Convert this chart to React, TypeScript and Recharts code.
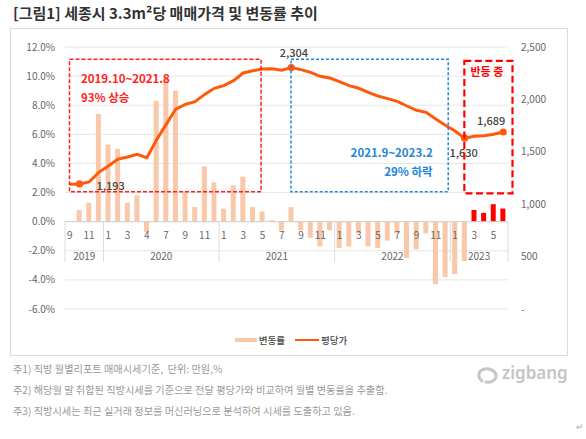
import React from 'react';
import {
  ComposedChart, Bar, Line, XAxis, YAxis, CartesianGrid, ReferenceLine,
  ReferenceArea, Cell, Legend, LabelList,
} from 'recharts';

// ---------- data ----------
const months = [
  '2019.09', '2019.10', '2019.11', '2019.12',
  '2020.01', '2020.02', '2020.03', '2020.04', '2020.05', '2020.06', '2020.07', '2020.08', '2020.09', '2020.10', '2020.11', '2020.12',
  '2021.01', '2021.02', '2021.03', '2021.04', '2021.05', '2021.06', '2021.07', '2021.08', '2021.09', '2021.10', '2021.11', '2021.12',
  '2022.01', '2022.02', '2022.03', '2022.04', '2022.05', '2022.06', '2022.07', '2022.08', '2022.09', '2022.10', '2022.11', '2022.12',
  '2023.01', '2023.02', '2023.03', '2023.04', '2023.05', '2023.06',
];

const monthTickLabels = [
  '9', '', '11', '',
  '1', '', '3', '', '4', '', '7', '', '9', '', '11', '',
  '1', '', '3', '', '5', '', '7', '', '9', '', '11', '',
  '1', '', '3', '', '5', '', '7', '', '9', '', '11', '',
  '1', '', '3', '', '5', '',
];

// 변동률 (%)
const changeRate = [
  0, 0.8, 1.3, 7.4,
  5.3, 5.0, 1.3, 1.8, -0.7, 8.3, 9.9, 9.0, 2.1, 1.0, 3.8, 2.7,
  0.9, 2.5, 3.1, 1.0, 0.7, 0.1, -0.6, 1.0, -0.6, -1.1, -1.7, -0.6,
  -1.8, -1.7, -0.8, -1.7, -1.8, -1.3, -0.8, -2.5, -1.9, -0.8, -4.3, -3.8,
  -3.6, -2.7, 0.8, 0.6, 1.2, 0.9,
];

// 평당가 (만원)
const avgPrice = [
  1190, 1193, 1212, 1304,
  1364, 1431, 1450, 1476, 1444, 1613, 1762, 1908, 1953, 1978, 2048, 2106,
  2131, 2179, 2252, 2274, 2290, 2293, 2278, 2304, 2284, 2258, 2220, 2204,
  2169, 2131, 2106, 2068, 2032, 2007, 1982, 1937, 1896, 1877, 1813, 1753,
  1698, 1630, 1648, 1654, 1667, 1689,
];

const labeledMonths = ['2019.10', '2021.08', '2023.02', '2023.06'];
const reboundMonths = ['2023.03', '2023.04', '2023.05', '2023.06'];

const leftTicks = [-6, -4, -2, 0, 2, 4, 6, 8, 10, 12];
const rightTicks = [0, 500, 1000, 1500, 2000, 2500];

const seriesNames = ['변동률', '평당가'];

const titleText = '[그림1] 세종시 3.3m²당 매매가격 및 변동률 추이';
const footnotes = [
  '주1) 직방 월별리포트 매매시세기준,  단위: 만원,%',
  '주2) 해당월 말 취합된 직방시세를 기준으로 전달 평당가와 비교하여 월별 변동률을 추출함.',
  '주3) 직방시세는 최근 실거래 정보를 머신러닝으로 분석하여 시세를 도출하고 있음.',
];

const riseLines = ['2019.10~2021.8', '93% 상승'];
const fallLines = ['2021.9~2023.2', '29% 하락'];
const reboundLines = ['반등 중'];

const data = months.map((m, i) => ({ month: m, change: changeRate[i], price: avgPrice[i] }));

// ---------- layout / style ----------
const W = 586;
const H = 439;
const MARGIN = { top: 47, right: 28, bottom: 100, left: 25 };
const LEFT_W = 40;
const RIGHT_W = 50;
const XAXIS_H = 30;
const PLOT_H = H - MARGIN.top - MARGIN.bottom - XAXIS_H;
const PLOT_W = W - MARGIN.left - MARGIN.right - LEFT_W - RIGHT_W;
const L_MIN = -6;
const L_MAX = 12;

const FONT = '"Noto Sans CJK KR", "Noto Sans", sans-serif';
const LINE_COLOR = '#ff5a0a';
const BAR_COLOR = '#f8c8a8';
const REBOUND_COLOR = '#ff0000';
const RED = '#ff1f1f';
const BLUE = '#2386d8';

const labelPlacement: Record<string, { dx: number; dy: number; anchor: string }> = {
  '2019.10': { dx: 17, dy: 1, anchor: 'start' },
  '2021.08': { dx: 2.5, dy: -16, anchor: 'middle' },
  '2023.02': { dx: -1, dy: 13.5, anchor: 'middle' },
  '2023.06': { dx: -12, dy: -12, anchor: 'middle' },
};

function MonthTick(props: any) {
  const { x, y, payload } = props;
  const i = months.indexOf(payload.value);
  const half = payload && typeof payload.offset === 'number' && payload.offset > 0
    ? payload.offset
    : PLOT_W / months.length / 2;
  const zeroY = y - (PLOT_H * (0 - L_MIN)) / (L_MAX - L_MIN);
  const els: any[] = [];
  const label = monthTickLabels[i];
  if (label) {
    els.push(
      <text key="m" x={x} y={zeroY + 13} textAnchor="middle" dominantBaseline="central"
        fontSize={10} fill="#666" fontFamily={FONT}>{label}</text>,
    );
  }
  const m = months[i];
  const year = m.slice(0, 4);
  const isYearStart = i === 0 || months[i - 1].slice(0, 4) !== year;
  if (isYearStart) {
    const count = months.filter((mm) => mm.startsWith(year)).length;
    els.push(
      <line key="s" x1={x - half} x2={x - half} y1={zeroY} y2={zeroY + 40} stroke="#dcdcdc" strokeWidth={1} />,
    );
    els.push(
      <text key="y" x={x - half + count * half} y={zeroY + 34} textAnchor="middle" dominantBaseline="central"
        fontSize={10} fill="#666" fontFamily={FONT}>{year}</text>,
    );
  }
  if (i === months.length - 1) {
    els.push(
      <line key="e" x1={x + half} x2={x + half} y1={zeroY} y2={zeroY + 40} stroke="#dcdcdc" strokeWidth={1} />,
    );
  }
  return <g>{els}</g>;
}

function renderDot(props: any) {
  const { cx, cy, payload, index } = props;
  if (!payload || !labeledMonths.includes(payload.month)) return <g key={`d${index}`} />;
  return <circle key={`d${index}`} cx={cx} cy={cy} r={3.6} fill={LINE_COLOR} stroke="none" />;
}

function renderPriceLabel(props: any) {
  const { x, y, value, index } = props;
  const m = months[index];
  if (!labeledMonths.includes(m)) return null;
  const p = labelPlacement[m];
  return (
    <text x={x + p.dx} y={y + p.dy} textAnchor={p.anchor as any} dominantBaseline="central"
      fontSize={11} fill="#444" fontFamily={FONT} fontWeight={500}>
      {Number(value).toLocaleString('en-US')}
    </text>
  );
}

function BoxShape(props: any) {
  const { x, y, width, height, kind } = props;
  if (kind === 'rise') {
    const bx = x + 4.5;
    const bw = width - 1;
    return (
      <g>
        <rect x={bx} y={y} width={bw} height={height} fill="none" stroke={RED} strokeWidth={1.5} strokeDasharray="4 2" />
        {riseLines.map((t, k) => (
          <text key={k} x={bx + 11.5} y={y + 19 + k * 18.5} dominantBaseline="central" fontSize={11.5}
            fontWeight={700} fill={RED} fontFamily={FONT}>{t}</text>
        ))}
      </g>
    );
  }
  if (kind === 'fall') {
    const bx = x + 4.5;
    const bw = width - 6.5;
    return (
      <g>
        <rect x={bx} y={y} width={bw} height={height} fill="none" stroke={BLUE} strokeWidth={1.5} strokeDasharray="3 2" />
        {fallLines.map((t, k) => (
          <text key={k} x={bx + bw - 15.5} y={y + height - 40 + k * 19} textAnchor="end" dominantBaseline="central"
            fontSize={11.5} fontWeight={700} fill={BLUE} fontFamily={FONT}>{t}</text>
        ))}
      </g>
    );
  }
  const bx = x + 4.5;
  const bw = width;
  return (
    <g>
      <rect x={bx} y={y} width={bw} height={height} fill="none" stroke={REBOUND_COLOR} strokeWidth={2.2} strokeDasharray="7 3.5" />
      {reboundLines.map((t, k) => (
        <text key={k} x={bx + bw / 2 - 1.5} y={y + 10.5} textAnchor="middle" dominantBaseline="central"
          fontSize={11} fontWeight={700} fill={REBOUND_COLOR} fontFamily={FONT}>{t}</text>
      ))}
    </g>
  );
}

function LegendContent() {
  return (
    <div style={{ display: 'flex', justifyContent: 'center', alignItems: 'center', fontFamily: FONT, fontSize: 9.5, color: '#444', fontWeight: 500, lineHeight: '14px' }}>
      <span style={{ display: 'inline-block', width: 22, height: 4.5, background: BAR_COLOR, marginRight: 2 }} />
      <span style={{ marginRight: 10 }}>{seriesNames[0]}</span>
      <span style={{ display: 'inline-block', width: 24, height: 2.8, background: LINE_COLOR, marginRight: 2 }} />
      <span>{seriesNames[1]}</span>
    </div>
  );
}

export default function App() {
  const areaProps: any = { zIndex: 2500, ifOverflow: 'visible' };
  return (
    <div style={{ position: 'absolute', left: 0, top: 0, width: W, height: H, background: '#fff', fontFamily: FONT, overflow: 'hidden' }}>
      <div style={{ position: 'absolute', left: 13, top: 3, fontSize: 15, fontWeight: 700, color: '#333', lineHeight: '20px', whiteSpace: 'nowrap' }}>
        {titleText}
      </div>
      <div style={{ position: 'absolute', left: 10, top: 28, width: 558, height: 328, border: '1px solid #dadada', boxSizing: 'border-box' }} />
      <div style={{ position: 'absolute', left: 0, top: 0 }}>
        <ComposedChart width={W} height={H} data={data} margin={MARGIN}>
          <CartesianGrid yAxisId="left" vertical={false} stroke="#e6e6e6" strokeWidth={1} />
          <XAxis dataKey="month" interval={0} axisLine={false} tickLine={false} tickSize={0} tickMargin={0}
            height={XAXIS_H} tick={(p: any) => <MonthTick {...p} />} />
          <YAxis yAxisId="left" orientation="left" width={LEFT_W} domain={[L_MIN, L_MAX]} ticks={leftTicks}
            axisLine={false} tickLine={false} tickSize={0} tickMargin={10} interval={0}
            tick={{ fontSize: 10, fill: '#666', fontFamily: FONT }}
            tickFormatter={(v: number) => `${v.toFixed(1)}%`} />
          <YAxis yAxisId="right" orientation="right" width={RIGHT_W} domain={[0, 2500]} ticks={rightTicks}
            axisLine={false} tickLine={false} tickSize={0} tickMargin={13} interval={0}
            tick={{ fontSize: 10, fill: '#666', fontFamily: FONT, textAnchor: 'start' }}
            tickFormatter={(v: number) => (v === 0 ? '-' : v.toLocaleString('en-US'))} />
          <ReferenceLine yAxisId="left" y={0} stroke="#d2d2d2" strokeWidth={1} />
          <Bar yAxisId="left" dataKey="change" name={seriesNames[0]} barSize={5} isAnimationActive={false}>
            {data.map((d) => (
              <Cell key={d.month} fill={reboundMonths.includes(d.month) ? REBOUND_COLOR : BAR_COLOR} />
            ))}
          </Bar>
          <Line yAxisId="right" type="linear" dataKey="price" name={seriesNames[1]} stroke={LINE_COLOR}
            strokeWidth={3} dot={renderDot} activeDot={false} isAnimationActive={false}>
            <LabelList dataKey="price" content={renderPriceLabel} />
          </Line>
          <ReferenceArea {...areaProps} yAxisId="left" x1="2019.09" x2="2021.04" y1={2.06} y2={11.15}
            shape={(p: any) => <BoxShape {...p} kind="rise" />} />
          <ReferenceArea {...areaProps} yAxisId="left" x1="2021.08" x2="2022.12" y1={2.06} y2={11.15}
            shape={(p: any) => <BoxShape {...p} kind="fall" />} />
          <ReferenceArea {...areaProps} yAxisId="left" x1="2023.02" x2="2023.06" y1={1.95} y2={11.04}
            shape={(p: any) => <BoxShape {...p} kind="rebound" />} />
          <Legend verticalAlign="middle" align="center" layout="horizontal"
            wrapperStyle={{ position: 'absolute', top: 333, left: 0, width: 582, height: 14 }}
            content={() => <LegendContent />} />
        </ComposedChart>
      </div>
      {footnotes.map((t, k) => (
        <div key={k} style={{ position: 'absolute', left: 13, top: 362 + k * 21, fontSize: 10.2, color: '#9a9a9a', lineHeight: '14px', whiteSpace: 'pre' }}>
          {t}
        </div>
      ))}
      <svg style={{ position: 'absolute', left: 476, top: 366 }} width={24} height={20}>
        <path d="M6 15 C 1 11, 2 4, 9 3 C 15 2, 21 6, 20 11 C 19 15, 14 17, 10 16" fill="none" stroke="#c6c6c6" strokeWidth={3} strokeLinecap="round" />
      </svg>
      <div style={{ position: 'absolute', left: 502, top: 362, fontSize: 17, fontWeight: 600, color: '#c4c4c4', fontFamily: '"Noto Sans", sans-serif', lineHeight: '22px' }}>
        zigbang
      </div>
      <div style={{ position: 'absolute', left: 576, top: 421, fontSize: 9, color: '#aaa', lineHeight: '12px' }}>↵</div>
    </div>
  );
}
